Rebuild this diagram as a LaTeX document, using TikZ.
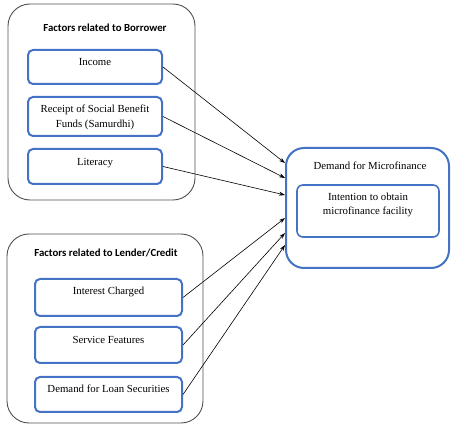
\documentclass[tikz,border=0pt]{standalone}
\usepackage{fontspec}
\setmainfont{Liberation Serif}
\newfontfamily\titlefont{Carlito}
\usetikzlibrary{arrows.meta}
\definecolor{boxblue}{RGB}{68,114,196}
\definecolor{outergray}{RGB}{80,80,80}
\begin{document}
\begin{tikzpicture}[x=1pt,y=-1pt,
  outerbox/.style={draw=outergray, line width=0.9pt, rounded corners=22pt, inner sep=0pt},
  inbox/.style={draw=boxblue, line width=2pt, rounded corners=5pt, inner sep=0pt},
  titletext/.style={font=\titlefont\bfseries\fontsize{10.8}{12}\selectfont, inner sep=0pt},
  boxtext/.style={font=\fontsize{10.8}{14.5}\selectfont, align=center, inner sep=0pt},
  conn/.style={draw=black, line width=0.6pt, -{Stealth[length=6pt,width=4pt]}}]
\useasboundingbox (0,0) rectangle (451,428);
% Borrower group
\node[outerbox, minimum width=187pt, minimum height=196pt] (bor) at (101.5,102) {};
\node[titletext] (bortitle) at (105,28) {Factors related to Borrower};
\node[inbox, minimum width=134pt, minimum height=34pt] (inc) at (95,67) {};
\node[boxtext] (inct) at (95,62) {Income};
\node[inbox, minimum width=134pt, minimum height=39pt] (rec) at (95,116.5) {};
\node[boxtext] (rect) at (95,117.5) {Receipt of Social Benefit\\Funds (Samurdhi)};
\node[inbox, minimum width=134pt, minimum height=35pt] (lit) at (95,166.5) {};
\node[boxtext] (litt) at (95,163) {Literacy};
% Lender group
\node[outerbox, minimum width=196pt, minimum height=189pt] (len) at (105,328.5) {};
\node[titletext] (lentitle) at (106,253) {Factors related to Lender/Credit};
\node[inbox, minimum width=147pt, minimum height=37pt] (int) at (108.5,297.5) {};
\node[boxtext] (intt) at (108.5,292) {Interest Charged};
\node[inbox, minimum width=147pt, minimum height=36pt] (ser) at (108.5,345) {};
\node[boxtext] (sert) at (108.5,340) {Service Features};
\node[inbox, minimum width=147pt, minimum height=35pt] (dls) at (108.5,394.5) {};
\node[boxtext] (dlst) at (108.5,389) {Demand for Loan Securities};
% Right group
\node[draw=boxblue, line width=2pt, rounded corners=18pt, inner sep=0pt, minimum width=163pt, minimum height=120pt] (dm) at (367.5,208) {};
\node[boxtext] (dmt) at (370,166) {Demand for Microfinance};
\node[draw=boxblue, line width=1.6pt, rounded corners=6pt, inner sep=0pt, minimum width=142pt, minimum height=52pt] (itn) at (368,211) {};
\node[boxtext] (itnt) at (368,205) {Intention to obtain\\microfinance facility};
% arrow targets
\coordinate (a1) at (dm.west |- 0,163);
\coordinate (a2) at (dm.west |- 0,178);
\coordinate (a3) at (dm.west |- 0,195);
\coordinate (a4) at (dm.west |- 0,218);
\coordinate (a5) at (dm.west |- 0,233);
\coordinate (a6) at (dm.west |- 0,245);
\draw[conn] (inc.east) -- (a1);
\draw[conn] (rec.east) -- (a2);
\draw[conn] (lit.east) -- (a3);
\draw[conn] (int.east) -- (a4);
\draw[conn] (ser.east) -- (a5);
\draw[conn] (dls.east) -- (a6);
\end{tikzpicture}
\end{document}
